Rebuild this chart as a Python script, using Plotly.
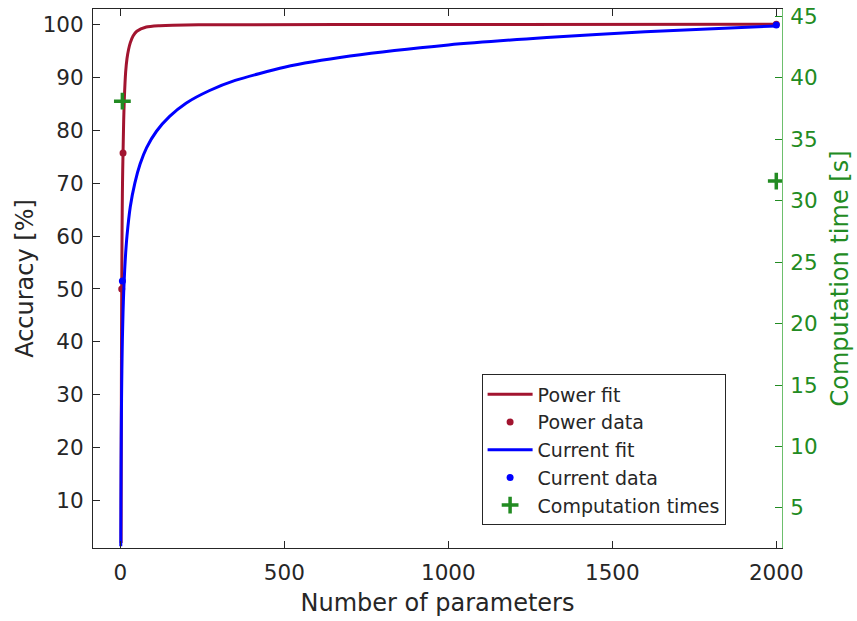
import plotly.graph_objects as go

# ---- data ----
power_fit_x = [2.1, 2.5, 3, 3.5, 4, 5, 6, 7, 8, 10, 12, 16, 20, 25, 30, 38.6, 50, 79,
               120, 160, 300, 1000, 2000]
power_fit_y = [2.0, 18.0, 32.0, 42.0, 50.0, 61.0, 68.0, 72.5, 75.7, 82.0, 86.0, 91.0,
               93.5, 95.3, 96.5, 97.8, 98.7, 99.5, 99.75, 99.85, 99.93, 99.97, 100.0]
power_data_x = [4, 8, 2000]
power_data_y = [50.0, 75.7, 100.0]

current_fit_x = [1.1, 1.2, 1.5, 2, 3, 4, 5, 6, 8, 10, 13, 16, 20, 30, 44, 60, 80, 110,
                 150, 200, 272, 350, 500, 700, 1000, 1300, 1600, 2000]
current_fit_y = [1.4, 3.8, 9.7, 16.9, 26.3, 32.4, 36.9, 40.4, 45.6, 49.4, 53.6, 56.8,
                 60.0, 65.5, 70.0, 73.6, 76.7, 79.8, 82.6, 85.1, 87.5, 89.4, 91.9, 94.0,
                 96.1, 97.5, 98.6, 99.7]
current_data_x = [6, 2000]
current_data_y = [51.5, 99.9]

comp_x = [6, 2000]
comp_y = [38.1, 31.6]

x_ticks = [0, 500, 1000, 1500, 2000]
left_ticks = [10, 20, 30, 40, 50, 60, 70, 80, 90, 100]
right_ticks = [5, 10, 15, 20, 25, 30, 35, 40, 45]

RED = "#A2142F"
BLUE = "#0000FF"
GREEN = "#228B22"
DARK = "#262626"
FONT = "DejaVu Sans, sans-serif"

fig = go.Figure()
fig.add_trace(go.Scatter(x=power_fit_x, y=power_fit_y, mode="lines", name="Power fit",
                         line=dict(color=RED, width=3, shape="spline", smoothing=0.6)))
fig.add_trace(go.Scatter(x=power_data_x, y=power_data_y, mode="markers", name="Power data",
                         marker=dict(color=RED, size=7)))
fig.add_trace(go.Scatter(x=current_fit_x, y=current_fit_y, mode="lines", name="Current fit",
                         line=dict(color=BLUE, width=3, shape="spline", smoothing=0.6)))
fig.add_trace(go.Scatter(x=current_data_x, y=current_data_y, mode="markers", name="Current data",
                         marker=dict(color=BLUE, size=7)))
fig.add_trace(go.Scatter(x=comp_x, y=comp_y, mode="markers", name="Computation times",
                         yaxis="y2",
                         marker=dict(symbol="cross-thin", size=12, color=GREEN,
                                     line=dict(color=GREEN, width=3.5))))

fig.update_layout(
    width=857, height=621,
    margin=dict(l=93, r=75, t=9, b=73, autoexpand=False),
    paper_bgcolor="white", plot_bgcolor="white",
    font=dict(family=FONT, color=DARK, size=20),
    xaxis=dict(range=[-83.6, 2017.4], tickvals=x_ticks, ticks="inside", ticklen=7,
               tickcolor=DARK, showline=True, linecolor=DARK, linewidth=1, mirror="ticks",
               showgrid=False, zeroline=False, tickfont=dict(size=21.5, color=DARK),
               ticklabelstandoff=5, automargin=False,
               title=dict(text="Number of parameters", font=dict(size=24, color=DARK),
                          standoff=10)),
    yaxis=dict(range=[1.06, 102.9], tickvals=left_ticks, ticks="inside", ticklen=7,
               tickcolor=DARK, showline=True, linecolor=DARK, linewidth=1, mirror=False,
               showgrid=False, zeroline=False, tickfont=dict(size=21.5, color=DARK),
               ticklabelstandoff=4, automargin=False,
               title=dict(text="Accuracy [%]", font=dict(size=24, color=DARK), standoff=2)),
    yaxis2=dict(range=[1.74, 45.6], tickvals=right_ticks, overlaying="y", side="right",
                anchor="x", ticks="inside", ticklen=7, tickcolor=GREEN, showline=True,
                linecolor="#6DBF6D", linewidth=1, showgrid=False, zeroline=False,
                tickfont=dict(size=21.5, color=GREEN), ticklabelstandoff=3,
                automargin=False,
                title=dict(text="Computation time [s]", font=dict(size=24, color=GREEN),
                           standoff=14)),
    legend=dict(x=0.564, y=0.322, xanchor="left", yanchor="top",
                bgcolor="white", bordercolor=DARK, borderwidth=1,
                font=dict(size=19, color=DARK), tracegroupgap=0, itemwidth=45),
    showlegend=True,
)

fig.write_html("out.html")
